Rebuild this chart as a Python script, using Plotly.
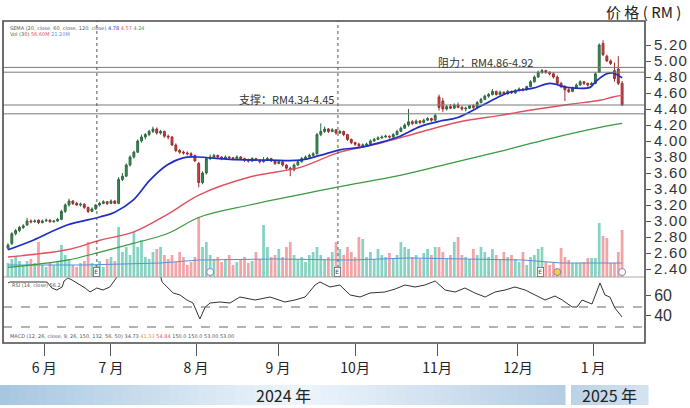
import plotly.graph_objects as go

# ---------------- layout constants ----------------
W, H = 690, 408
ML, MR, MT, MB = 3, 45, 21, 65
PW, PH = W - ML - MR, H - MT - MB


def px_x(x):
    return (x - ML) / PW


def px_y(y):
    return (H - MB - y) / PH


# ---------------- data ----------------
month_labels = ["6 月", "7 月", "8 月", "9 月", "10月", "11月", "12月", "1 月"]
month_pos = [9.5, 27.0, 49.3, 70.8, 91.0, 112.5, 133.7, 153.4]

opens = [2.66, 2.72, 2.84, 2.88, 2.92, 2.95, 3.00, 2.99, 3.01, 2.98,
         3.00, 3.01, 2.99, 3.00, 3.02, 3.12, 3.20, 3.25, 3.22, 3.20,
         3.21, 3.17, 3.12, 3.15, 3.20, 3.22, 3.24, 3.22, 3.25, 3.22,
         3.52, 3.56, 3.70, 3.80, 3.86, 4.00, 4.05, 4.08, 4.12, 4.15,
         4.10, 4.12, 4.06, 4.05, 3.95, 3.88, 3.86, 3.85, 3.84, 3.82,
         3.72, 3.48, 3.60, 3.78, 3.80, 3.82, 3.80, 3.78, 3.80, 3.79,
         3.78, 3.80, 3.78, 3.76, 3.75, 3.78, 3.76, 3.74, 3.76, 3.78,
         3.75, 3.72, 3.74, 3.70, 3.66, 3.64, 3.70, 3.74, 3.78, 3.80,
         3.82, 3.84, 4.08, 4.12, 4.15, 4.12, 4.14, 4.10, 4.12, 4.08,
         4.02, 3.98, 3.96, 3.94, 3.95, 3.96, 4.00, 4.02, 4.04, 4.05,
         4.06, 4.05, 4.08, 4.12, 4.16, 4.20, 4.24, 4.22, 4.25, 4.23,
         4.26, 4.28, 4.26, 4.55, 4.50, 4.40, 4.43, 4.41, 4.45, 4.42,
         4.40, 4.41, 4.44, 4.42, 4.48, 4.52, 4.56, 4.58, 4.62, 4.58,
         4.61, 4.59, 4.62, 4.60, 4.63, 4.65, 4.64, 4.68, 4.74, 4.80,
         4.86, 4.88, 4.86, 4.84, 4.80, 4.72, 4.68, 4.64, 4.62, 4.66,
         4.70, 4.74, 4.72, 4.70, 4.72, 4.86, 5.22, 5.06, 5.00, 4.88,
         4.90, 4.72]
highs = [2.72, 2.86, 2.90, 2.94, 2.96, 3.04, 3.02, 3.02, 3.02, 3.02,
         3.03, 3.02, 3.01, 3.04, 3.14, 3.22, 3.28, 3.26, 3.24, 3.23,
         3.22, 3.18, 3.17, 3.21, 3.24, 3.26, 3.25, 3.27, 3.26, 3.55,
         3.60, 3.72, 3.82, 3.88, 4.02, 4.08, 4.10, 4.14, 4.18, 4.17,
         4.14, 4.13, 4.08, 4.06, 3.97, 3.90, 3.88, 3.87, 3.86, 3.83,
         3.74, 3.62, 3.80, 3.83, 3.84, 3.83, 3.81, 3.82, 3.81, 3.80,
         3.82, 3.81, 3.79, 3.78, 3.80, 3.79, 3.77, 3.80, 3.80, 3.79,
         3.76, 3.76, 3.75, 3.71, 3.68, 3.72, 3.76, 3.80, 3.82, 3.84,
         3.86, 4.10, 4.22, 4.18, 4.16, 4.16, 4.15, 4.14, 4.13, 4.09,
         4.03, 3.99, 3.98, 3.97, 3.98, 4.02, 4.04, 4.06, 4.07, 4.08,
         4.07, 4.10, 4.14, 4.18, 4.22, 4.40, 4.26, 4.27, 4.26, 4.28,
         4.30, 4.29, 4.34, 4.58, 4.54, 4.45, 4.46, 4.47, 4.48, 4.44,
         4.43, 4.45, 4.46, 4.50, 4.54, 4.58, 4.60, 4.65, 4.63, 4.63,
         4.62, 4.64, 4.63, 4.65, 4.67, 4.66, 4.69, 4.76, 4.82, 4.88,
         4.90, 4.89, 4.87, 4.86, 4.82, 4.74, 4.70, 4.66, 4.68, 4.72,
         4.76, 4.75, 4.73, 4.74, 4.86, 5.22, 5.26, 5.08, 5.02, 4.98,
         5.06, 4.75]
lows = [2.64, 2.70, 2.82, 2.86, 2.90, 2.94, 2.97, 2.98, 2.96, 2.97,
        2.99, 2.98, 2.98, 2.99, 3.01, 3.10, 3.18, 3.20, 3.19, 3.18,
        3.15, 3.10, 3.11, 3.14, 3.18, 3.21, 3.20, 3.21, 3.21, 3.21,
        3.50, 3.55, 3.68, 3.78, 3.85, 3.98, 4.02, 4.06, 4.10, 4.08,
        4.08, 4.04, 4.02, 3.94, 3.86, 3.84, 3.83, 3.82, 3.80, 3.74,
        3.42, 3.46, 3.58, 3.76, 3.78, 3.78, 3.76, 3.77, 3.77, 3.76,
        3.77, 3.76, 3.74, 3.73, 3.74, 3.75, 3.72, 3.73, 3.75, 3.74,
        3.70, 3.71, 3.68, 3.64, 3.56, 3.62, 3.69, 3.73, 3.77, 3.79,
        3.81, 3.83, 4.06, 4.10, 4.10, 4.11, 4.08, 4.09, 4.06, 4.00,
        3.96, 3.94, 3.92, 3.93, 3.94, 3.95, 3.99, 4.01, 4.03, 4.04,
        4.03, 4.04, 4.07, 4.11, 4.15, 4.18, 4.20, 4.21, 4.21, 4.22,
        4.25, 4.24, 4.25, 4.38, 4.36, 4.38, 4.40, 4.40, 4.41, 4.38,
        4.37, 4.40, 4.40, 4.41, 4.47, 4.51, 4.54, 4.57, 4.57, 4.57,
        4.58, 4.58, 4.59, 4.59, 4.62, 4.62, 4.63, 4.67, 4.73, 4.79,
        4.84, 4.84, 4.82, 4.78, 4.70, 4.66, 4.50, 4.60, 4.61, 4.65,
        4.69, 4.70, 4.68, 4.69, 4.71, 4.85, 5.06, 4.99, 4.95, 4.74,
        4.70, 4.44]
closes = [2.70, 2.84, 2.88, 2.92, 2.94, 3.00, 2.99, 3.00, 2.98, 3.00,
          3.01, 2.99, 3.00, 3.02, 3.12, 3.20, 3.25, 3.22, 3.20, 3.21,
          3.17, 3.12, 3.15, 3.20, 3.22, 3.24, 3.22, 3.25, 3.22, 3.52,
          3.56, 3.70, 3.80, 3.86, 4.00, 4.05, 4.08, 4.12, 4.15, 4.10,
          4.12, 4.06, 4.05, 3.95, 3.88, 3.86, 3.85, 3.84, 3.82, 3.75,
          3.48, 3.60, 3.78, 3.80, 3.82, 3.80, 3.78, 3.80, 3.79, 3.78,
          3.80, 3.78, 3.76, 3.75, 3.78, 3.76, 3.74, 3.76, 3.78, 3.75,
          3.72, 3.74, 3.70, 3.66, 3.64, 3.70, 3.74, 3.78, 3.80, 3.82,
          3.84, 4.08, 4.12, 4.15, 4.12, 4.14, 4.10, 4.12, 4.08, 4.02,
          3.98, 3.96, 3.94, 3.95, 3.96, 4.00, 4.02, 4.04, 4.05, 4.06,
          4.05, 4.08, 4.12, 4.16, 4.20, 4.24, 4.22, 4.25, 4.23, 4.26,
          4.28, 4.26, 4.32, 4.42, 4.40, 4.43, 4.41, 4.45, 4.42, 4.40,
          4.41, 4.44, 4.42, 4.48, 4.52, 4.56, 4.58, 4.62, 4.58, 4.61,
          4.59, 4.62, 4.60, 4.63, 4.65, 4.64, 4.68, 4.74, 4.80, 4.86,
          4.88, 4.86, 4.84, 4.80, 4.72, 4.68, 4.64, 4.62, 4.66, 4.70,
          4.74, 4.72, 4.70, 4.72, 4.84, 5.20, 5.08, 5.00, 4.97, 4.78,
          4.72, 4.45]
volumes = [14, 18, 20, 16, 12, 16, 18, 14, 35, 12,
           10, 14, 12, 15, 32, 22, 18, 12, 10, 14,
           16, 35, 14, 12, 16, 10, 18, 20, 16, 50,
           25, 30, 22, 45, 30, 37, 20, 18, 25, 28,
           30, 22, 18, 22, 15, 25, 20, 12, 15, 20,
           60, 30, 35, 22, 18, 20, 15, 18, 22, 12,
           15, 18, 20, 14, 16, 25, 18, 52, 30, 20,
           22, 28, 20, 30, 35, 22, 18, 20, 15, 22,
           25, 30, 22, 18, 20, 25, 35, 28, 22, 30,
           25, 20, 40, 38, 20, 25, 18, 28, 22, 20,
           24, 18, 22, 35, 30, 28, 20, 22, 18, 24,
           28, 22, 30, 30, 25, 18, 22, 35, 40, 22,
           20, 18, 28, 22, 30, 25, 20, 28, 22, 18,
           25, 20, 22, 18, 15, 25, 12, 20, 22, 28,
           30, 15, 12, 14, 8, 29, 20, 17, 14, 14,
           14, 15, 19, 19, 19, 54, 41, 39, 14, 14,
           25, 47]
vol_ma_idx = [0, 20, 40, 50, 70, 90, 105, 120, 135, 145, 161]
vol_ma_val = [12, 12, 14, 17, 18, 17, 19, 18, 17, 14, 14]

ema20_idx = [0, 6.6, 15.5, 24.1, 28, 32.8, 37.2, 41.7, 45.9, 49.6, 58.2, 68.7,
             76.6, 81.8, 87, 92.3, 97.5, 102.8, 108, 113.3, 117.7, 124.5, 129,
             131.6, 137.6, 142.1, 146.6, 152.6, 154, 157, 158.6, 161]
ema20_val = [2.64, 2.76, 2.95, 3.05, 3.11, 3.26, 3.51, 3.70, 3.79, 3.80, 3.77, 3.76,
             3.76, 3.82, 3.89, 3.92, 3.98, 4.06, 4.18, 4.25, 4.29, 4.45, 4.56,
             4.61, 4.66, 4.72, 4.67, 4.67, 4.74, 4.84, 4.85, 4.79]
ema60_idx = [0, 15.5, 24.1, 32.8, 41.7, 50.3, 63.4, 76.6, 87, 97.5, 108, 118.5,
             129, 137.6, 147.4, 155.2, 158.6, 161]
ema60_val = [2.55, 2.64, 2.76, 2.86, 3.08, 3.33, 3.55, 3.67, 3.86, 3.97, 4.11, 4.24,
             4.32, 4.39, 4.46, 4.51, 4.55, 4.57]
ema120_idx = [0, 15.5, 24.1, 32.8, 41.7, 50.3, 63.4, 76.6, 87, 102.8, 115.9, 129,
              142.1, 155.2, 161]
ema120_val = [2.42, 2.51, 2.61, 2.72, 2.84, 3.05, 3.20, 3.33, 3.43, 3.57, 3.72, 3.87,
              4.03, 4.17, 4.22]

rsi_idx = [0, 0.5, 10.2, 11.5, 12.8, 14.2, 14.7, 15.7, 16.8, 18.9, 20.2, 21.5,
           23.3, 24.9, 26.7, 28, 29.4, 32, 36, 39.9, 40.4, 43.3, 45.1, 46.9,
           48.5, 50.3, 51.7, 53, 55.6, 58.2, 60.8, 64.8, 68.7, 72.6, 75.2, 77.9,
           80.5, 81.8, 84.4, 87, 89.7, 92.3, 94.9, 98.8, 101.5, 104.1, 106.7,
           109.3, 112, 114.6, 117.2, 119.8, 122.4, 125.1, 127.7, 130.3, 132.9,
           135.6, 138.2, 140.8, 143.4, 145.3, 147.9, 149.2, 150.5, 151.8, 153.1,
           155.2, 156.5, 157.8, 159.1, 161]
rsi_val = [72, 73, 73, 67, 65, 68, 74, 77, 75, 70, 67, 63,
           67, 65, 68, 75, 82, 88, 90, 80, 73, 62, 60, 55,
           52, 36, 48, 52, 53, 52, 58, 55, 58, 53, 55, 58,
           70, 73, 68, 70, 60, 58, 62, 63, 66, 70, 68,
           70, 74, 65, 63, 67, 62, 58, 63, 65, 68,
           65, 60, 55, 59, 55, 48, 48, 55, 53, 51,
           72, 60, 58, 47, 38]

resist_lo, resist_hi = 4.86, 4.92
support_lo, support_hi = 4.34, 4.45
event_idx = [23.3, 86.5]
e_marker_idx = [23.3, 86.5, 139.5]
dot_marker_idx = [53, 144, 161]

N = len(closes)
xs = list(range(N))
vol_colors = ["#86d3c3" if c >= o else "#f4a3a6" for o, c in zip(opens, closes)]

FONT = "Liberation Sans, Arial, Noto Sans CJK SC, sans-serif"
CJK = "Noto Sans CJK SC, Liberation Sans, sans-serif"

fig = go.Figure()

fig.add_trace(go.Bar(x=xs, y=volumes, marker=dict(color=vol_colors, line=dict(width=0)),
                     width=0.72, xaxis="x", yaxis="y", hoverinfo="skip"))
fig.add_trace(go.Scatter(x=vol_ma_idx, y=vol_ma_val, mode="lines",
                         line=dict(color="#5b8fd6", width=1), xaxis="x", yaxis="y",
                         hoverinfo="skip"))
fig.add_trace(go.Scatter(x=dot_marker_idx, y=[5, 5, 5], mode="markers",
                         marker=dict(size=7, color=["#ffffff", "#f5d03a", "#ffffff"],
                                     line=dict(color="#8a7fc0", width=1)),
                         xaxis="x", yaxis="y", hoverinfo="skip"))

fig.add_trace(go.Scatter(x=ema120_idx, y=ema120_val, mode="lines", line_shape="spline",
                         line=dict(color="#3a9a3f", width=1.2), xaxis="x", yaxis="y2",
                         hoverinfo="skip"))
fig.add_trace(go.Scatter(x=ema60_idx, y=ema60_val, mode="lines", line_shape="spline",
                         line=dict(color="#e2505c", width=1.4), xaxis="x", yaxis="y2",
                         hoverinfo="skip"))
fig.add_trace(go.Scatter(x=ema20_idx, y=ema20_val, mode="lines", line_shape="spline",
                         line=dict(color="#1f2fc4", width=1.7), xaxis="x", yaxis="y2",
                         hoverinfo="skip"))
fig.add_trace(go.Candlestick(x=xs, open=opens, high=highs, low=lows, close=closes,
                             increasing=dict(line=dict(color="#2c6a3e", width=1),
                                             fillcolor="#3f8a57"),
                             decreasing=dict(line=dict(color="#a02c2c", width=1),
                                             fillcolor="#c8474a"),
                             whiskerwidth=0, xaxis="x", yaxis="y2", hoverinfo="skip"))

fig.add_trace(go.Scatter(x=rsi_idx, y=rsi_val, mode="lines",
                         line=dict(color="#333333", width=1), xaxis="x", yaxis="y3",
                         hoverinfo="skip"))

dom_split = px_y(277)
price_ticks = [round(2.40 + 0.2 * k, 2) for k in range(15)]

fig.update_layout(
    width=W, height=H, margin=dict(l=ML, r=MR, t=MT, b=MB),
    paper_bgcolor="white", plot_bgcolor="white", showlegend=False,
    font=dict(family=FONT, color="#333"),
    xaxis=dict(domain=[0, 1], range=[-1.31, 167.0], anchor="y3",
               rangeslider=dict(visible=False), showgrid=False, zeroline=False,
               tickmode="array", tickvals=month_pos, ticktext=month_labels,
               ticks="outside", ticklen=12, tickcolor="#555", tickwidth=1,
               tickfont=dict(family=CJK, size=14, color="#222"), showline=False),
    yaxis=dict(domain=[dom_split, 1], range=[0, 256], visible=False, fixedrange=True),
    yaxis2=dict(overlaying="y", range=[2.30, 5.50], side="right", anchor="x",
                tickmode="array", tickvals=price_ticks,
                ticktext=["\u200a".join(f"{v:.2f}") for v in price_ticks],
                ticks="outside", ticklen=5, tickcolor="#555",
                tickfont=dict(family=FONT, size=15, color="#333"),
                showgrid=False, zeroline=False, showline=False),
    yaxis3=dict(domain=[0, dom_split], range=[12, 78], side="right", anchor="x",
                tickmode="array", tickvals=[40, 60], ticktext=["40", "60"],
                ticks="outside", ticklen=5, tickcolor="#555",
                tickfont=dict(family=FONT, size=16, color="#333"),
                showgrid=False, zeroline=False, showline=False),
)

shapes = []
# support / resistance lines
for lv in [resist_lo, resist_hi, support_lo, support_hi]:
    shapes.append(dict(type="line", xref="paper", yref="y2", x0=0, x1=1, y0=lv, y1=lv,
                       line=dict(color="#7a7a7a", width=1)))
# event dotted lines
for ev in event_idx:
    shapes.append(dict(type="line", xref="x", yref="paper", x0=ev, x1=ev,
                       y0=px_y(268), y1=1, line=dict(color="#555", width=1, dash="dot")))
# panel separator
shapes.append(dict(type="line", xref="paper", yref="paper", x0=0, x1=1,
                   y0=dom_split, y1=dom_split, line=dict(color="#aaaaaa", width=1)))
# RSI dashed levels
for lv in [48, 28]:
    shapes.append(dict(type="line", xref="paper", yref="y3", x0=0, x1=1, y0=lv, y1=lv,
                       line=dict(color="#666", width=1, dash="dash")))
# frame
shapes.append(dict(type="rect", xref="paper", yref="paper", x0=0, x1=1, y0=0, y1=1,
                   line=dict(color="#4a4a4a", width=1.6)))


# year band gradient
def lerp(c1, c2, t):
    return "rgb(%d,%d,%d)" % tuple(round(a + (b - a) * t) for a, b in zip(c1, c2))


c_edge = (166, 198, 224)
c_mid = (238, 245, 251)
c_edge2 = (180, 205, 228)
nstrip = 60
x_start, x_mid, x_end = 0, 300, 565
for k in range(nstrip):
    xa = x_start + (x_end - x_start) * k / nstrip
    xb = x_start + (x_end - x_start) * (k + 1) / nstrip + 0.6
    xc = (xa + xb) / 2
    if xc < x_mid:
        col = lerp(c_edge, c_mid, (xc - x_start) / (x_mid - x_start))
    else:
        col = lerp(c_mid, c_edge2, (xc - x_mid) / (x_end - x_mid))
    shapes.append(dict(type="rect", xref="paper", yref="paper", x0=px_x(xa), x1=px_x(xb),
                       y0=px_y(405), y1=px_y(385), line=dict(width=0), fillcolor=col,
                       layer="below"))
for k in range(12):
    xa = 571 + 77 * k / 12
    xb = 571 + 77 * (k + 1) / 12 + 0.6
    col = lerp((186, 210, 230), (212, 227, 240), (k + 0.5) / 12)
    shapes.append(dict(type="rect", xref="paper", yref="paper", x0=px_x(xa), x1=px_x(xb),
                       y0=px_y(405), y1=px_y(385), line=dict(width=0), fillcolor=col,
                       layer="below"))
fig.update_layout(shapes=shapes)

ann = []
ann.append(dict(text="价 格 ( RM )", xref="paper", yref="paper", x=px_x(643), y=px_y(11),
                xanchor="center", yanchor="middle", showarrow=False,
                font=dict(family=CJK, size=15, color="#222")))
ann.append(dict(text="阻力：RM4.86-4.92", xref="paper", yref="paper", x=px_x(436),
                y=px_y(62), xanchor="left", yanchor="middle", showarrow=False,
                font=dict(family=CJK, size=11, color="#333")))
ann.append(dict(text="支撑：RM4.34-4.45", xref="paper", yref="paper", x=px_x(237),
                y=px_y(99), xanchor="left", yanchor="middle", showarrow=False,
                font=dict(family=CJK, size=11, color="#333")))
ann.append(dict(text="2024 年", xref="paper", yref="paper", x=px_x(283), y=px_y(395),
                xanchor="center", yanchor="middle", showarrow=False,
                font=dict(family=CJK, size=16, color="#222")))
ann.append(dict(text="2025 年", xref="paper", yref="paper", x=px_x(609), y=px_y(395),
                xanchor="center", yanchor="middle", showarrow=False,
                font=dict(family=CJK, size=16, color="#222")))
# tiny legends
ann.append(dict(text="SEMA (20, close, 60, close, 120, close) "
                     "<span style='color:#1f2fc4'>4.78</span> "
                     "<span style='color:#e2505c'>4.57</span> "
                     "<span style='color:#3a9a3f'>4.24</span>",
                xref="paper", yref="paper", x=px_x(8), y=px_y(28), xanchor="left",
                yanchor="middle", showarrow=False,
                font=dict(family="DejaVu Sans", size=5, color="#555")))
ann.append(dict(text="Vol (30) <span style='color:#e2505c'>56.60M</span> "
                     "<span style='color:#5b8fd6'>21.20M</span>",
                xref="paper", yref="paper", x=px_x(8), y=px_y(34), xanchor="left",
                yanchor="middle", showarrow=False,
                font=dict(family="DejaVu Sans", size=5, color="#555")))
ann.append(dict(text="RSI (14, close) 56.2", xref="paper", yref="paper", x=px_x(10),
                y=px_y(285), xanchor="left", yanchor="middle", showarrow=False,
                font=dict(family="DejaVu Sans", size=5, color="#555")))
ann.append(dict(text="MACD (12, 26, close, 9, 26, 150, 132, 56, 50) 34.73 "
                     "<span style='color:#e0a040'>41.33</span> "
                     "<span style='color:#e2505c'>54.84</span> 150.0 150.0 53.00 53.00",
                xref="paper", yref="paper", x=px_x(8), y=px_y(336), xanchor="left",
                yanchor="middle", showarrow=False,
                font=dict(family="DejaVu Sans", size=5, color="#555")))
for e in e_marker_idx:
    ann.append(dict(text="E", xref="x", yref="paper", x=e, y=px_y(272), xanchor="center",
                    yanchor="middle", showarrow=False, bgcolor="white",
                    bordercolor="#666", borderwidth=0.8, borderpad=0.5,
                    font=dict(family="DejaVu Sans", size=6, color="#444")))
fig.update_layout(annotations=ann)

fig.write_html("out.html", config={"displayModeBar": False},
               post_script="document.body.style.margin='0';"
                           "document.body.style.overflow='hidden';")
